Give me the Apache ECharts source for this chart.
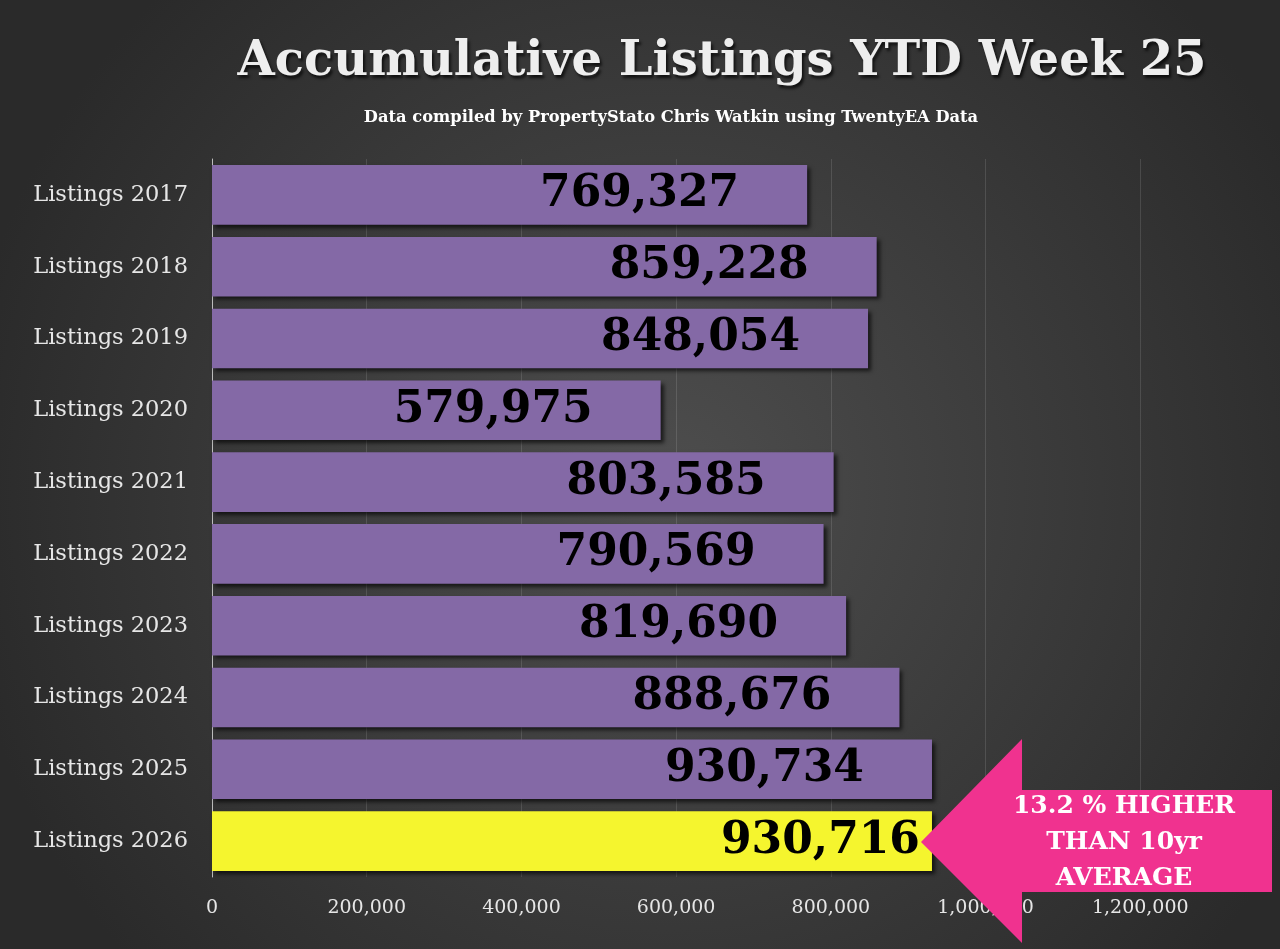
<!DOCTYPE html>
<html>
<head>
<meta charset="utf-8">
<script src="https://cdn.jsdelivr.net/npm/echarts@6/dist/echarts.min.js"></script>
<style>
  html, body { margin: 0; padding: 0; background: #333; }
  #chart { width: 1280px; height: 949px; }
</style>
</head>
<body>
<div id="chart"></div>
<script>
// ---------------------------------------------------------------------------
// Data
// ---------------------------------------------------------------------------
const categories = [
  'Listings 2017', 'Listings 2018', 'Listings 2019', 'Listings 2020', 'Listings 2021',
  'Listings 2022', 'Listings 2023', 'Listings 2024', 'Listings 2025', 'Listings 2026',
];
const listings = [769327, 859228, 848054, 579975, 803585, 790569, 819690, 888676, 930734, 930716];
const highlightYear = 'Listings 2026';
const xTicks = [0, 200000, 400000, 600000, 800000, 1000000, 1200000];
const calloutLines = ['13.2 % HIGHER', 'THAN 10yr', 'AVERAGE'];

const SLAB = '"DejaVu Serif", "Liberation Serif", serif';
const PURPLE = '#8469a6';
const YELLOW = '#f5f52e';

const chart = echarts.init(document.getElementById('chart'), null, { renderer: 'canvas' });

// categories listed top-down, so the y axis is inverted
const seriesData = categories.map((name, i) => {
  const hi = name === highlightYear;
  return {
    value: listings[i],
    itemStyle: { color: hi ? YELLOW : PURPLE },
    label: { distance: hi ? 12 : 68 },
  };
});

chart.setOption({
  animation: false,
  backgroundColor: {
    type: 'radial', x: 0.52, y: 0.52, r: 0.75,
    colorStops: [
      { offset: 0, color: '#4e4e4e' },
      { offset: 1, color: '#2a2a2a' },
    ],
  },
  title: [
    {
      text: 'Accumulative Listings YTD Week 25',
      left: 717, top: 34, textAlign: 'center',
      textStyle: {
        fontFamily: SLAB, fontWeight: 'bold', fontSize: 48, color: '#eeeeee',
        textShadowColor: 'rgba(0,0,0,0.7)', textShadowBlur: 3,
        textShadowOffsetX: 2, textShadowOffsetY: 3,
      },
    },
    {
      text: 'Data compiled by PropertyStato Chris Watkin using TwentyEA Data',
      left: 666, top: 105, textAlign: 'center',
      textStyle: { fontFamily: SLAB, fontWeight: 'bold', fontSize: 16.3, color: '#ffffff' },
    },
  ],
  // the 1,400,000 end of the axis sits just past the right edge of the canvas
  grid: { left: 212, top: 159, width: 1083, height: 718, containLabel: false, outerBoundsMode: 'none' },
  xAxis: {
    type: 'value',
    min: 0, max: 1400000, interval: 200000,
    axisLine: { show: false },
    axisTick: { show: false },
    splitLine: { show: true, lineStyle: { color: 'rgba(255,255,255,0.12)', width: 1 } },
    axisLabel: {
      showMaxLabel: false,
      margin: 22,
      color: '#e6e6e6', fontFamily: SLAB, fontSize: 19,
      formatter: (v) => (xTicks.includes(v) ? v.toLocaleString('en-US') : ''),
    },
  },
  yAxis: {
    type: 'category',
    data: categories,
    inverse: true,
    axisLine: { show: true, lineStyle: { color: '#bdbdbd', width: 1 } },
    axisTick: { show: false },
    axisLabel: { margin: 24, color: '#e6e6e6', fontFamily: SLAB, fontSize: 22.5 },
  },
  series: [{
    type: 'bar',
    data: seriesData,
    barCategoryGap: '17%',
    itemStyle: {
      shadowColor: 'rgba(0,0,0,0.65)', shadowBlur: 4,
      shadowOffsetX: 3, shadowOffsetY: 3,
    },
    label: {
      show: true,
      position: 'insideRight',
      color: '#000000',
      fontFamily: SLAB, fontWeight: 'bold', fontSize: 44,
      formatter: (p) => p.value.toLocaleString('en-US'),
    },
  }],
  // pink callout arrow sits on top of the axis labels, as in the slide
  graphic: [
    {
      type: 'polygon',
      z: 100,
      shape: {
        points: [[921, 842], [1022, 739], [1022, 790], [1272, 790],
                 [1272, 892], [1022, 892], [1022, 943]],
      },
      style: { fill: '#f0328f' },
    },
    {
      type: 'text',
      z: 101,
      x: 1124, y: 842,
      style: {
        text: calloutLines.join('\n'),
        align: 'center', verticalAlign: 'middle',
        fill: '#ffffff', fontFamily: SLAB, fontWeight: 'bold', fontSize: 25, lineHeight: 36,
      },
    },
  ],
});
</script>
</body>
</html>
